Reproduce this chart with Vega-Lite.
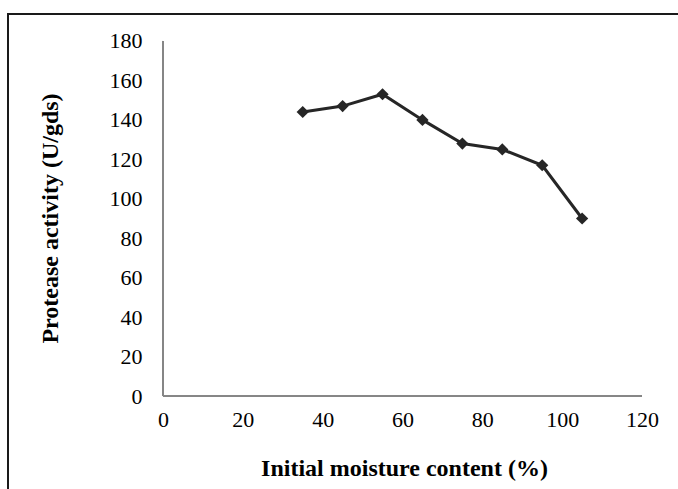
{
  "$schema": "https://vega.github.io/schema/vega-lite/v6.json",
  "autosize": {"type": "none"},
  "padding": {"left": 8, "top": 14, "right": 0, "bottom": 0},
  "width": 672,
  "height": 480,
  "background": "white",
  "config": {
    "view": {"stroke": "#1a1a1a", "strokeWidth": 2},
    "font": "Liberation Serif"
  },
  "data": {"values": [
    {"moisture": 35, "activity": 144},
    {"moisture": 45, "activity": 147},
    {"moisture": 55, "activity": 153},
    {"moisture": 65, "activity": 140},
    {"moisture": 75, "activity": 128},
    {"moisture": 85, "activity": 125},
    {"moisture": 95, "activity": 117},
    {"moisture": 105, "activity": 90}
  ]},
  "encoding": {
    "x": {
      "field": "moisture", "type": "quantitative",
      "scale": {"domain": [-38.83, 129.52], "nice": false, "zero": false},
      "axis": {
        "title": "Initial moisture content (%)",
        "values": [0, 20, 40, 60, 80, 100, 120],
        "domain": false, "ticks": false, "grid": false,
        "offset": -98,
        "labelFont": "Liberation Serif", "labelFontSize": 22, "labelColor": "#000",
        "labelPadding": 13,
        "titleFont": "Liberation Serif", "titleFontSize": 24, "titleFontWeight": "bold", "titleColor": "#000",
        "titleX": 396, "titleY": 72, "titleBaseline": "middle", "titleAlign": "center"
      }
    },
    "y": {
      "field": "activity", "type": "quantitative",
      "scale": {"domain": [-49.69, 193.69], "nice": false, "zero": false},
      "axis": {
        "title": "Protease activity (U/gds)",
        "values": [0, 20, 40, 60, 80, 100, 120, 140, 160, 180],
        "domain": false, "ticks": false, "grid": false,
        "offset": -155,
        "labelFont": "Liberation Serif", "labelFontSize": 22, "labelColor": "#000",
        "labelPadding": 21,
        "titleFont": "Liberation Serif", "titleFontSize": 24, "titleFontWeight": "bold", "titleColor": "#000",
        "titleX": -113, "titleY": 204, "titleBaseline": "middle", "titleAlign": "center", "titleAngle": -90
      }
    }
  },
  "layer": [
    {
      "mark": {"type": "rule", "color": "#868686", "strokeWidth": 1},
      "encoding": {
        "x": {"datum": 0}, "y": {"datum": 0}, "y2": {"datum": 180}
      }
    },
    {
      "mark": {"type": "rule", "color": "#868686", "strokeWidth": 1},
      "encoding": {
        "x": {"datum": 0}, "x2": {"datum": 120}, "y": {"datum": 0}
      }
    },
    {
      "mark": {"type": "line", "color": "#262626", "strokeWidth": 3},
      "encoding": {}
    },
    {
      "mark": {"type": "point", "shape": "diamond", "filled": true, "color": "#262626", "size": 150, "opacity": 1},
      "encoding": {}
    }
  ]
}
